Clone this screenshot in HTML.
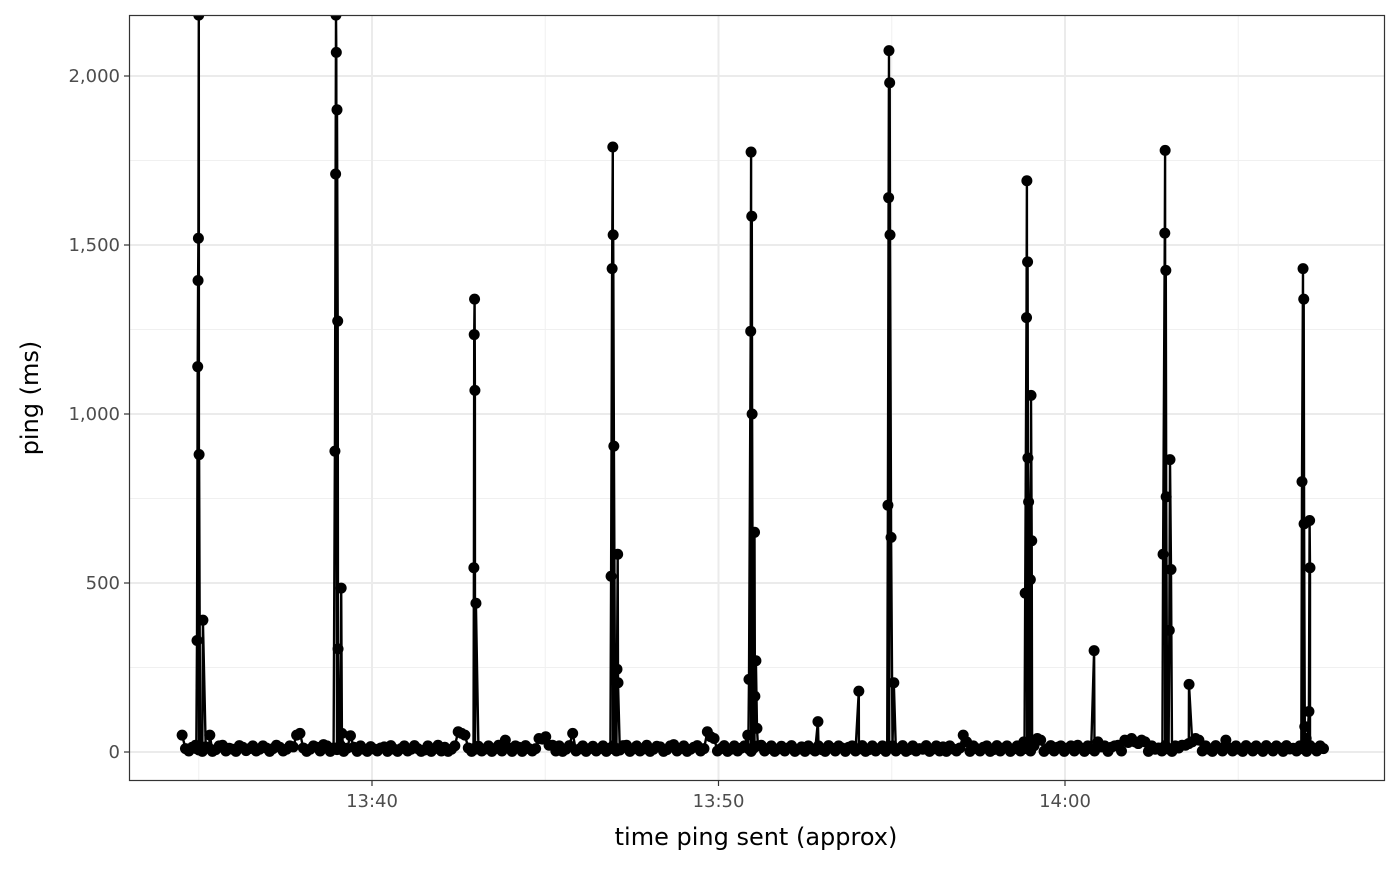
<!DOCTYPE html>
<html><head><meta charset="utf-8"><style>
body{margin:0;background:#fff}
svg text{font-family:"DejaVu Sans","Liberation Sans",sans-serif}
</style></head><body>
<svg id="chart" width="1400" height="866">
<defs><clipPath id="pc"><rect x="129" y="15" width="1256" height="766"/></clipPath></defs>
<rect x="0" y="0" width="1400" height="866" fill="#fff"/>
<g id="grid"></g>
<g id="marks" clip-path="url(#pc)"></g>
<rect x="129.5" y="15.5" width="1255" height="765" fill="none" stroke="#333" stroke-width="1.2"/>
<g id="axes"></g>
<text x="756" y="845" font-size="24" text-anchor="middle" fill="#000">time ping sent (approx)</text>
<text transform="translate(38,398) rotate(-90)" font-size="24" text-anchor="middle" fill="#000">ping (ms)</text>
</svg>
<script>
// time in minutes after 13:30
const yTicks = [0, 500, 1000, 1500, 2000];
const yTickLabels = ["0", "500", "1,000", "1,500", "2,000"];
const xTicks = [10, 20, 30];
const xTickLabels = ["13:40", "13:50", "14:00"];
const baselineStart = 4.52;
const baselineEnd = 37.46;
const baselineValues = [
50,10,3,14,20,6,2,15,11,2,
7,18,20,3,11,8,2,19,14,4,
10,18,3,8,18,12,2,10,20,14,
3,8,18,15,50,55,12,2,8,18,
14,3,22,18,2,12,7,20,2,11,
48,14,2,18,8,2,16,9,3,12,
15,2,19,8,2,10,18,3,8,19,
10,2,6,18,2,10,20,3,14,2,
8,18,60,55,50,12,2,8,17,3,
9,18,2,10,20,3,35,12,2,18,
14,2,19,10,3,10,40,38,45,20,
20,3,18,2,8,19,55,3,9,18,
2,10,17,3,10,18,2,11,18,3,
6,19,20,2,9,18,3,9,20,2,
8,17,15,2,7,18,22,3,10,18,
2,8,14,19,3,10,60,45,40,3,
10,19,2,8,18,3,11,18,50,2,
14,18,20,3,10,18,2,9,17,3,
12,19,2,8,15,2,18,9,3,18,
7,2,19,11,3,18,12,2,14,18,
3,9,19,2,7,18,3,10,18,2,
12,18,3,10,19,2,7,18,3,10,
8,19,2,9,18,3,15,2,18,9,
3,12,50,30,2,18,10,3,14,18,
2,7,19,3,12,18,2,9,18,3,
30,12,3,18,40,35,2,10,19,3,
14,18,2,12,18,3,20,11,2,18,
10,3,30,15,18,2,14,18,20,3,
35,28,40,30,25,35,30,2,18,8,
12,3,19,9,2,18,12,20,20,25,
30,40,35,3,18,8,2,19,12,3,
35,12,3,18,8,2,19,12,3,18,
10,2,19,11,3,18,12,2,19,9,
11,3,18,12,2,19,11,3,18,10];
const spikeTimes = [4.93,4.95,4.97,4.98,4.99,5.0,5.01,5.04,5.12,5.32,
 8.93,8.95,8.96,8.97,8.99,9.01,9.02,9.05,9.11,9.13,
 12.93,12.94,12.95,12.96,12.97,13.0,
 16.88,16.90,16.93,16.95,16.96,16.98,17.02,17.07,17.09,17.10,
 20.86,20.88,20.93,20.94,20.96,20.97,21.0,21.04,21.05,21.08,21.11,
 22.87,24.05,
 24.87,24.89,24.91,24.92,24.94,24.95,24.98,25.06,
 28.83,28.85,28.89,28.90,28.92,28.93,28.95,28.96,29.0,29.02,29.04,29.05,
 30.84,
 32.81,32.83,32.88,32.89,32.91,32.92,32.95,33.01,33.03,33.06,33.09,33.58,
 36.82,36.84,36.87,36.89,36.90,36.92,36.93,36.96,37.04,37.06,37.07];
const spikeValues = [10,330,1140,1395,1520,2180,880,10,390,50,
 890,1710,2180,2070,1900,1275,305,10,485,55,
 10,545,1235,1340,1070,440,
 10,520,1430,1790,1530,905,10,245,585,205,
 10,215,1245,1775,1585,1000,10,650,165,270,70,
 90,180,
 10,730,1640,2075,1980,1530,635,205,
 10,470,1285,1690,1450,870,740,10,510,1055,625,30,
 300,
 10,585,1535,1780,1425,755,10,360,865,540,10,200,
 10,800,1430,1340,675,75,10,40,120,685,545];

const NS='http://www.w3.org/2000/svg';
const L=129,R=1385,T=15,B=781;
const xScale=m=>372+(m-10)*34.65;
const yScale=v=>752-v*0.338;
const grid=document.getElementById('grid'),marks=document.getElementById('marks'),axes=document.getElementById('axes');
function mk(p,tag,at){const e=document.createElementNS(NS,tag);for(const k in at)e.setAttribute(k,at[k]);p.appendChild(e);return e;}
[5,15,25,35].forEach(m=>{const l=mk(grid,'line',{x1:xScale(m),x2:xScale(m),y1:T,y2:B,stroke:'#f0f0f0','stroke-width':1});

});
[250,750,1250,1750].forEach(v=>{const l=mk(grid,'line',{x1:L,x2:R,y1:yScale(v),y2:yScale(v),stroke:'#f0f0f0','stroke-width':1});

});
xTicks.forEach((m,i)=>{const x=xScale(m);
const l=mk(grid,'line',{x1:x,x2:x,y1:T,y2:B,stroke:'#ebebeb','stroke-width':2});


const t=mk(axes,'line',{x1:x,x2:x,y1:B,y2:B+5,stroke:'#333','stroke-width':1.2});


const tx=mk(axes,'text',{x:x,y:B+26,'font-size':18,'text-anchor':'middle',fill:'#4d4d4d'});tx.textContent=xTickLabels[i];

});
yTicks.forEach((v,i)=>{const y=yScale(v);
const l=mk(grid,'line',{x1:L,x2:R,y1:y,y2:y,stroke:'#ebebeb','stroke-width':2});


const t=mk(axes,'line',{x1:L-5,x2:L,y1:y,y2:y,stroke:'#333','stroke-width':1.2});


const tx=mk(axes,'text',{x:L-9,y:y+6,'font-size':18,'text-anchor':'end',fill:'#4d4d4d'});tx.textContent=yTickLabels[i];

});
const pts=[];
const n=baselineValues.length;
baselineValues.forEach((v,i)=>pts.push([baselineStart+(baselineEnd-baselineStart)*i/(n-1),v]));
spikeTimes.forEach((t,i)=>pts.push([t,spikeValues[i]]));
pts.sort((a,b)=>a[0]-b[0]);
const d=pts.map((p,i)=>(i?'L':'M')+xScale(p[0]).toFixed(1)+','+yScale(p[1]).toFixed(1)).join('');
const line=mk(marks,'path',{d:d,fill:'none',stroke:'#000','stroke-width':2.4,'stroke-linejoin':'round'});


pts.forEach(p=>{const c=mk(marks,'circle',{cx:xScale(p[0]),cy:yScale(p[1]),r:5.5,fill:'#000'});

});
</script>
</body></html>
